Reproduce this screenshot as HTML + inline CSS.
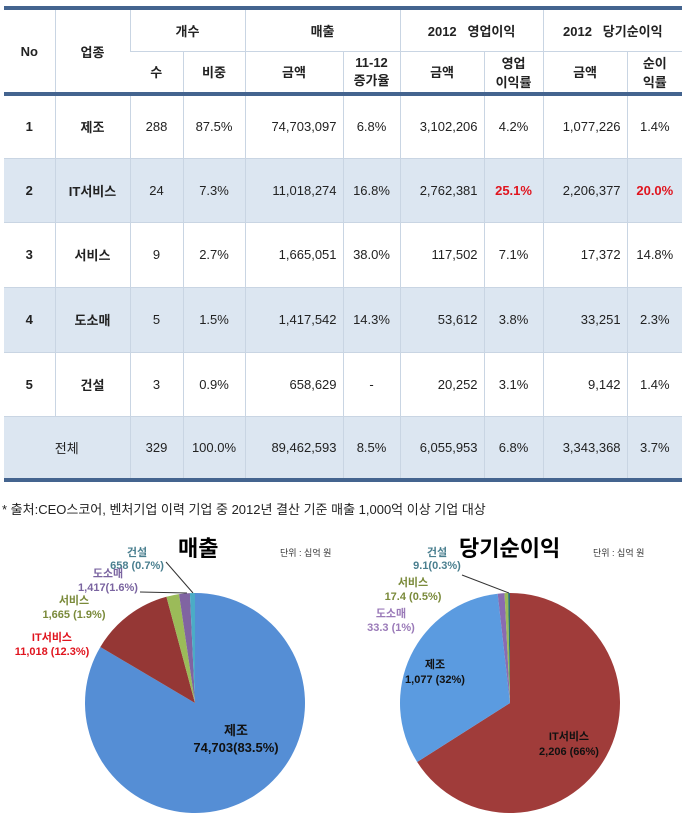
<!DOCTYPE html>
<html><head><meta charset="utf-8"><style>
body{margin:0;width:688px;height:835px;background:#fff;font-family:"Liberation Sans","Noto Sans CJK KR",sans-serif;overflow:hidden;position:relative}
table{position:absolute;left:4px;top:6px;border-collapse:collapse;width:678px;table-layout:fixed;font-size:13px;color:#222}
td{border-left:1px solid #c9d5e3;border-top:1px solid #c9d5e3;text-align:center;padding:0}
td:first-child{border-left:none}
.h td{font-weight:bold}
.alt td{background:#dce6f1}
.r{color:#e0141e;font-weight:bold}
.num{text-align:right;padding-right:6px}
</style></head><body>
<table>
<colgroup><col style="width:51px"><col style="width:75px"><col style="width:53px"><col style="width:62px"><col style="width:98px"><col style="width:57px"><col style="width:84px"><col style="width:59px"><col style="width:84px"><col style="width:55px"></colgroup>
<tr class="h" style="height:43px;border-top:4px solid #44648f"><td rowspan="2">No</td><td rowspan="2">업종</td><td colspan="2">개수</td><td colspan="2">매출</td><td colspan="2">2012 &nbsp;&nbsp;영업이익</td><td colspan="2">2012 &nbsp;&nbsp;당기순이익</td></tr>
<tr class="h" style="height:43px;border-bottom:4px solid #44648f"><td>수</td><td>비중</td><td>금액</td><td>11-12<br>증가율</td><td>금액</td><td>영업<br>이익률</td><td>금액</td><td>순이<br>익률</td></tr>
<tr style="height:64px"><td><b>1</b></td><td><b>제조</b></td><td>288</td><td>87.5%</td><td class="num">74,703,097</td><td>6.8%</td><td class="num">3,102,206</td><td>4.2%</td><td class="num">1,077,226</td><td>1.4%</td></tr>
<tr class="alt" style="height:64px"><td><b>2</b></td><td><b>IT서비스</b></td><td>24</td><td>7.3%</td><td class="num">11,018,274</td><td>16.8%</td><td class="num">2,762,381</td><td class="r">25.1%</td><td class="num">2,206,377</td><td class="r">20.0%</td></tr>
<tr style="height:65px"><td><b>3</b></td><td><b>서비스</b></td><td>9</td><td>2.7%</td><td class="num">1,665,051</td><td>38.0%</td><td class="num">117,502</td><td>7.1%</td><td class="num">17,372</td><td>14.8%</td></tr>
<tr class="alt" style="height:65px"><td><b>4</b></td><td><b>도소매</b></td><td>5</td><td>1.5%</td><td class="num">1,417,542</td><td>14.3%</td><td class="num">53,612</td><td>3.8%</td><td class="num">33,251</td><td>2.3%</td></tr>
<tr style="height:64px"><td><b>5</b></td><td><b>건설</b></td><td>3</td><td>0.9%</td><td class="num">658,629</td><td>-</td><td class="num">20,252</td><td>3.1%</td><td class="num">9,142</td><td>1.4%</td></tr>
<tr class="alt" style="height:64px;border-bottom:4px solid #44648f"><td colspan="2">전체</td><td>329</td><td>100.0%</td><td class="num">89,462,593</td><td>8.5%</td><td class="num">6,055,953</td><td>6.8%</td><td class="num">3,343,368</td><td>3.7%</td></tr>
</table>
<div style="position:absolute;left:2px;top:499px;font-size:13px;color:#222">* 출처:CEO스코어, 벤처기업 이력 기업 중 2012년 결산 기준 매출 1,000억 이상 기업 대상</div>
<svg id="pies" width="688" height="835" style="position:absolute;left:0;top:0" font-family="Liberation Sans, Noto Sans CJK KR, sans-serif">
<text x="178" y="556" font-size="22" font-weight="bold">매출</text>
<text x="280" y="556" font-size="9" fill="#333">단위 : 십억 원</text>
<text x="459" y="556" font-size="22" font-weight="bold">당기순이익</text>
<text x="593" y="556" font-size="9" fill="#333">단위 : 십억 원</text>
<line x1="166" y1="562" x2="193" y2="593" stroke="#333"/>
<line x1="140" y1="592" x2="187" y2="593" stroke="#333"/>
<line x1="462" y1="575" x2="509" y2="593" stroke="#333"/>
<g id="g1"></g><g id="g2"></g>
<g font-size="11" font-weight="bold" text-anchor="middle">
<text x="137" y="556" fill="#4a7f8f">건설</text><text x="137" y="569" fill="#4a7f8f">658 (0.7%)</text>
<text x="108" y="577" fill="#7a64a0">도소매</text><text x="108" y="591" fill="#7a64a0">1,417(1.6%)</text>
<text x="74" y="604" fill="#7a8a3a">서비스</text><text x="74" y="618" fill="#7a8a3a">1,665 (1.9%)</text>
<text x="52" y="641" fill="#e0141e">IT서비스</text><text x="52" y="655" fill="#e0141e">11,018 (12.3%)</text>
<text x="236" y="735" font-size="13" fill="#111">제조</text><text x="236" y="752" font-size="13" fill="#111">74,703(83.5%)</text>
<text x="437" y="556" fill="#4a7f8f">건설</text><text x="437" y="569" fill="#4a7f8f">9.1(0.3%)</text>
<text x="413" y="586" fill="#7a8a3a">서비스</text><text x="413" y="600" fill="#7a8a3a">17.4 (0.5%)</text>
<text x="391" y="617" fill="#9a7ab8">도소매</text><text x="391" y="631" fill="#9a7ab8">33.3 (1%)</text>
<text x="435" y="668" fill="#111">제조</text><text x="435" y="683" fill="#111">1,077 (32%)</text>
<text x="569" y="740" fill="#111">IT서비스</text><text x="569" y="755" fill="#111">2,206 (66%)</text>
</g>
</svg>
<script>
const salesLabels=['제조','IT서비스','서비스','도소매','건설'];
const salesValues=[74703,11018,1665,1417,658];
const salesColors=['#558ed5','#953735','#9bbb59','#8064a2','#4bacc6'];
const netLabels=['IT서비스','제조','도소매','서비스','건설'];
const netValues=[2206,1077,33.3,17.4,9.1];
const netColors=['#a03c3a','#5b9be0','#8a6bb0','#9bbb59','#2f6f6f'];
function pie(gid,cx,cy,r,vals,cols,labels){
  const g=document.getElementById(gid);
  const tot=vals.reduce((a,b)=>a+b,0);let a=-Math.PI/2;
  vals.forEach((v,i)=>{
    const b=a+v/tot*2*Math.PI;
    const p=document.createElementNS('http://www.w3.org/2000/svg','path');
    const x1=cx+r*Math.cos(a),y1=cy+r*Math.sin(a),x2=cx+r*Math.cos(b),y2=cy+r*Math.sin(b);
    p.setAttribute('d',`M${cx},${cy}L${x1},${y1}A${r},${r} 0 ${b-a>Math.PI?1:0} 1 ${x2},${y2}Z`);
    p.setAttribute('fill',cols[i]);
    
    
    g.appendChild(p);a=b;
  });
}
pie('g1',195,703,110,salesValues,salesColors,salesLabels);
pie('g2',510,703,110,netValues,netColors,netLabels);
</script>
</body></html>
